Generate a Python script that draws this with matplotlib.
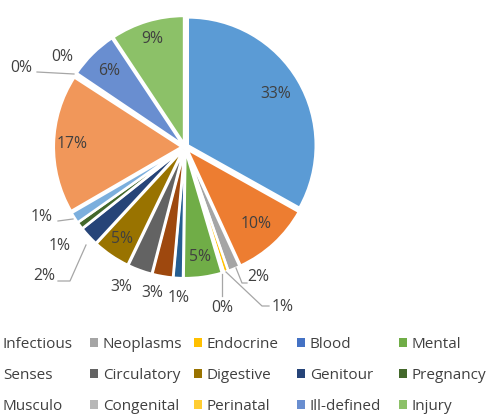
import numpy as np
import matplotlib
matplotlib.use("Agg")
import matplotlib.pyplot as plt

plt.rcParams['font.family'] = ['Open Sans', 'DejaVu Sans']

# Data (clockwise from 12 o'clock); names of the three cut-off legend entries are not visible
categories = ["", "Infectious", "Neoplasms", "Endocrine", "Blood", "Mental",
              "", "Senses", "Circulatory", "Digestive", "Genitour", "Pregnancy",
              "", "Musculo", "Congenital", "Perinatal", "Ill-defined", "Injury"]
values = [33.0, 10.0, 1.5, 0.55, 0.2, 4.8,
          1.2, 2.6, 3.1, 4.7, 2.45, 0.9,
          1.4, 17.45, 0.1, 0.2, 6.2, 9.3]
colors = ["#5B9BD5", "#ED7D31", "#A5A5A5", "#FFC000", "#4472C4", "#70AD47",
          "#255E91", "#9E480E", "#636363", "#997300", "#264478", "#43682B",
          "#7CAFDD", "#F1975A", "#B7B7B7", "#FFCD33", "#698ED0", "#8CC168"]

W, H = 491, 417
fig = plt.figure(figsize=(W / 100, H / 100), dpi=100)

cx, cy, R = 185, 147, 128          # pixel centre / radius
half = 1.35
ax = fig.add_axes([(cx - half * R) / W, (H - cy - half * R) / H,
                   2 * half * R / W, 2 * half * R / H])

wedges, _ = ax.pie(values, colors=colors, startangle=90, counterclock=False,
                   explode=[0.025] * len(values),
                   wedgeprops=dict(edgecolor='white', linewidth=1.8))
ax.set_xlim(-half, half)
ax.set_ylim(-half, half)
ax.set_aspect('equal')
ax.axis('off')

labels = ["%d%%" % round(v) for v in values]
txtcol = "#404040"
fs = 11.3
lfs = 11

def px2d(x, y):
    return ((x - cx) / R, (cy - y) / R)

# inside labels: radius factor per wedge
inside_r = {0: 0.82, 1: 0.82, 5: 0.87, 9: 0.87, 13: 0.88, 16: 0.84, 17: 0.88}
for i, w in enumerate(wedges):
    if i in inside_r:
        ang = np.deg2rad((w.theta1 + w.theta2) / 2)
        r = inside_r[i]
        ax.text(r * np.cos(ang), r * np.sin(ang), labels[i], ha='center',
                va='center', fontsize=fs, color=txtcol)

# outside labels (text pos px, optional leader path px)
lead = "#A6A6A6"
outside = {
    2: ((258, 277), [(236, 268), (242, 283), (247, 283)]),
    3: ((283, 307), [(226, 272), (262, 306), (269, 306)]),
    4: ((222, 308), [(222, 274), (222, 296)]),
    6: ((179, 298), None),
    7: ((152, 293), None),
    8: ((121, 287), None),
    10: ((44, 276), [(86, 245), (70, 281), (58, 281)]),
    11: ((60, 246), None),
    12: ((42, 217), [(73, 219), (58, 221)]),
    14: ((21, 68), [(74, 74), (37, 72)]),
    15: ((62, 57), None),
}
for i, (tp, path) in outside.items():
    tx, ty = px2d(*tp)
    ax.text(tx, ty, labels[i], ha='center', va='center', fontsize=fs, color=txtcol)
    if path:
        pts = np.array([px2d(*p) for p in path])
        ax.plot(pts[:, 0], pts[:, 1], color=lead, lw=0.9)

# legend: five columns, three rows (first column's markers fall outside the canvas)
col_x = [-10, 90, 194, 297, 399]     # marker left edge, px
row_y0 = 337
for c in range(5):
    idx = [1 + c, 7 + c, 13 + c]
    leg = fig.legend([wedges[k] for k in idx], [categories[k] for k in idx],
                     loc='upper left', bbox_to_anchor=(col_x[c] / W, 1 - row_y0 / H),
                     frameon=False, fontsize=lfs, handlelength=0.55, handleheight=0.55,
                     handletextpad=0.3, labelspacing=1.05, borderaxespad=0,
                     borderpad=0, labelcolor=txtcol)
    for h in leg.legend_handles:
        h.set_edgecolor('none')

fig.savefig("out.png", dpi=100)
